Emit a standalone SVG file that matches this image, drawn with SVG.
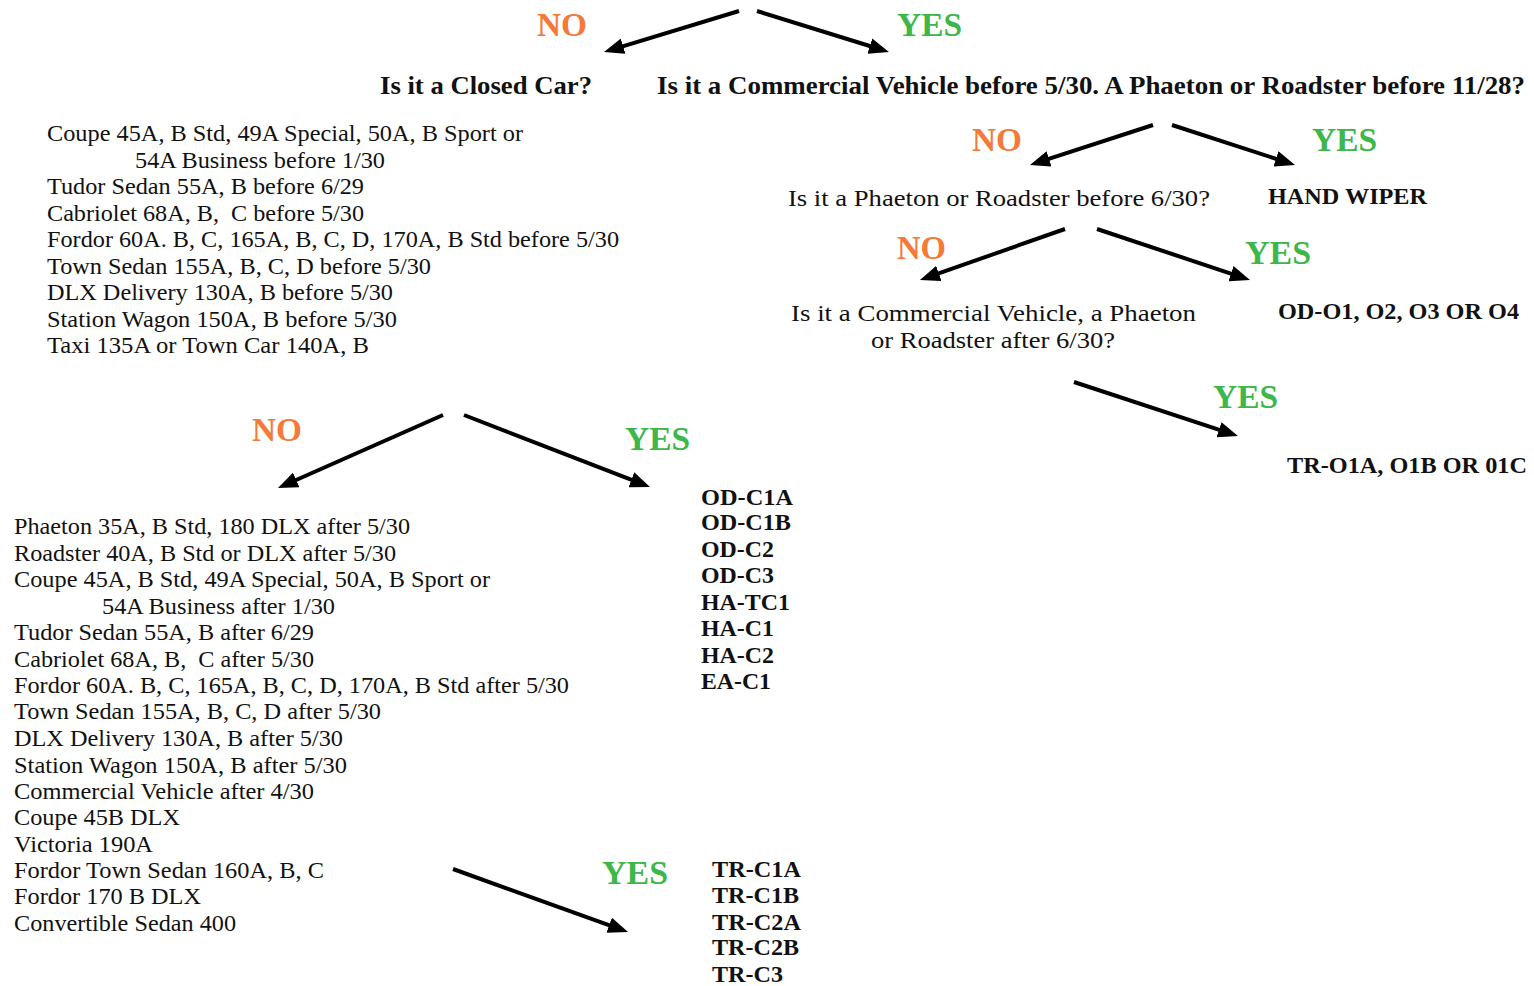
<svg xmlns="http://www.w3.org/2000/svg" width="1534" height="986" viewBox="0 0 1534 986" font-family="'Liberation Serif', 'Tinos', 'DejaVu Serif', serif">
<style>
text{font-family:'Liberation Serif','Tinos','DejaVu Serif',serif;fill:#111}
.r{font-size:24px}
.b{font-size:24px;font-weight:bold}
.q{font-size:26px;font-weight:bold}
.no{font-size:33px;font-weight:bold;fill:#F47A3A}
.yes{font-size:33px;font-weight:bold;fill:#3DB64A}
.c line{stroke:#000;stroke-width:4;marker-end:url(#ah)}
</style>
<defs>
<marker id="ah" markerUnits="userSpaceOnUse" markerWidth="20" markerHeight="16" refX="10" refY="8" orient="auto">
<path d="M0,0 L20,8 L0,16 z" fill="#000"/>
</marker>
</defs>
<rect width="1534" height="986" fill="#fff"/>
<g id="connectors" class="c">
<line x1="739" y1="11" x2="613.6" y2="49.1"/>
<line x1="757" y1="11" x2="879.4" y2="49"/>
<line x1="1153" y1="125" x2="1039.5" y2="161.9"/>
<line x1="1172" y1="125" x2="1285.5" y2="161.9"/>
<line x1="1065" y1="229" x2="929.4" y2="276.7"/>
<line x1="1097" y1="229" x2="1240.5" y2="276.8"/>
<line x1="1074" y1="382" x2="1228.5" y2="432.9"/>
<line x1="443" y1="415" x2="287.1" y2="484"/>
<line x1="464" y1="415" x2="640.7" y2="483.4"/>
<line x1="453" y1="869" x2="618.6" y2="928.6"/>
</g>
<g id="labels">
<text class="no" x="537" y="36" textLength="50" lengthAdjust="spacingAndGlyphs">NO</text>
<text class="yes" x="897" y="36" textLength="65" lengthAdjust="spacingAndGlyphs">YES</text>
<text class="no" x="972" y="151" textLength="50" lengthAdjust="spacingAndGlyphs">NO</text>
<text class="yes" x="1312" y="151" textLength="65" lengthAdjust="spacingAndGlyphs">YES</text>
<text class="no" x="897" y="259" textLength="49" lengthAdjust="spacingAndGlyphs">NO</text>
<text class="yes" x="1245" y="264" textLength="66" lengthAdjust="spacingAndGlyphs">YES</text>
<text class="yes" x="1213" y="408" textLength="65" lengthAdjust="spacingAndGlyphs">YES</text>
<text class="no" x="252" y="441" textLength="50" lengthAdjust="spacingAndGlyphs">NO</text>
<text class="yes" x="625" y="450" textLength="65" lengthAdjust="spacingAndGlyphs">YES</text>
<text class="yes" x="602" y="884" textLength="66" lengthAdjust="spacingAndGlyphs">YES</text>
</g>
<g id="q-closed">
<text class="q" x="380" y="94" textLength="212" lengthAdjust="spacingAndGlyphs">Is it a Closed Car?</text>
</g>
<g id="q-commercial">
<text class="q" x="657" y="94" textLength="868" lengthAdjust="spacingAndGlyphs">Is it a Commercial Vehicle before 5/30. A Phaeton or Roadster before 11/28?</text>
</g>
<g id="list-closed-before">
<text class="r" x="47" y="141" textLength="476" lengthAdjust="spacingAndGlyphs">Coupe 45A, B Std, 49A Special, 50A, B Sport or</text>
<text class="r" x="135" y="168" textLength="250" lengthAdjust="spacingAndGlyphs">54A Business before 1/30</text>
<text class="r" x="47" y="194" textLength="317" lengthAdjust="spacingAndGlyphs">Tudor Sedan 55A, B before 6/29</text>
<text class="r" x="47" y="221" textLength="317" lengthAdjust="spacingAndGlyphs">Cabriolet 68A, B,&#160; C before 5/30</text>
<text class="r" x="47" y="247" textLength="572" lengthAdjust="spacingAndGlyphs">Fordor 60A. B, C, 165A, B, C, D, 170A, B Std before 5/30</text>
<text class="r" x="47" y="274" textLength="384" lengthAdjust="spacingAndGlyphs">Town Sedan 155A, B, C, D before 5/30</text>
<text class="r" x="47" y="300" textLength="346" lengthAdjust="spacingAndGlyphs">DLX Delivery 130A, B before 5/30</text>
<text class="r" x="47" y="327" textLength="350" lengthAdjust="spacingAndGlyphs">Station Wagon 150A, B before 5/30</text>
<text class="r" x="47" y="353" textLength="322" lengthAdjust="spacingAndGlyphs">Taxi 135A or Town Car 140A, B</text>
</g>
<g id="q-phaeton">
<text class="r" x="788" y="206" textLength="422" lengthAdjust="spacingAndGlyphs">Is it a Phaeton or Roadster before 6/30?</text>
</g>
<g id="hand-wiper">
<text class="b" x="1268" y="204" textLength="159" lengthAdjust="spacingAndGlyphs">HAND WIPER</text>
</g>
<g id="q-commercial-after">
<text class="r" x="791" y="321" textLength="405" lengthAdjust="spacingAndGlyphs">Is it a Commercial Vehicle, a Phaeton</text>
<text class="r" x="871" y="348" textLength="244" lengthAdjust="spacingAndGlyphs">or Roadster after 6/30?</text>
</g>
<g id="od-o">
<text class="b" x="1278" y="319" textLength="241" lengthAdjust="spacingAndGlyphs">OD-O1, O2, O3 OR O4</text>
</g>
<g id="tr-o">
<text class="b" x="1287" y="473" textLength="240" lengthAdjust="spacingAndGlyphs">TR-O1A, O1B OR 01C</text>
</g>
<g id="list-closed-after">
<text class="r" x="14" y="534" textLength="396" lengthAdjust="spacingAndGlyphs">Phaeton 35A, B Std, 180 DLX after 5/30</text>
<text class="r" x="14" y="561" textLength="382" lengthAdjust="spacingAndGlyphs">Roadster 40A, B Std or DLX after 5/30</text>
<text class="r" x="14" y="587" textLength="476" lengthAdjust="spacingAndGlyphs">Coupe 45A, B Std, 49A Special, 50A, B Sport or</text>
<text class="r" x="102" y="614" textLength="233" lengthAdjust="spacingAndGlyphs">54A Business after 1/30</text>
<text class="r" x="14" y="640" textLength="300" lengthAdjust="spacingAndGlyphs">Tudor Sedan 55A, B after 6/29</text>
<text class="r" x="14" y="667" textLength="300" lengthAdjust="spacingAndGlyphs">Cabriolet 68A, B,&#160; C after 5/30</text>
<text class="r" x="14" y="693" textLength="555" lengthAdjust="spacingAndGlyphs">Fordor 60A. B, C, 165A, B, C, D, 170A, B Std after 5/30</text>
<text class="r" x="14" y="719" textLength="367" lengthAdjust="spacingAndGlyphs">Town Sedan 155A, B, C, D after 5/30</text>
<text class="r" x="14" y="746" textLength="329" lengthAdjust="spacingAndGlyphs">DLX Delivery 130A, B after 5/30</text>
<text class="r" x="14" y="773" textLength="333" lengthAdjust="spacingAndGlyphs">Station Wagon 150A, B after 5/30</text>
<text class="r" x="14" y="799" textLength="300" lengthAdjust="spacingAndGlyphs">Commercial Vehicle after 4/30</text>
<text class="r" x="14" y="825" textLength="166" lengthAdjust="spacingAndGlyphs">Coupe 45B DLX</text>
<text class="r" x="14" y="852" textLength="139" lengthAdjust="spacingAndGlyphs">Victoria 190A</text>
<text class="r" x="14" y="878" textLength="310" lengthAdjust="spacingAndGlyphs">Fordor Town Sedan 160A, B, C</text>
<text class="r" x="14" y="904" textLength="187" lengthAdjust="spacingAndGlyphs">Fordor 170 B DLX</text>
<text class="r" x="14" y="931" textLength="222" lengthAdjust="spacingAndGlyphs">Convertible Sedan 400</text>
</g>
<g id="codes-c">
<text class="b" x="701" y="505" textLength="92" lengthAdjust="spacingAndGlyphs">OD-C1A</text>
<text class="b" x="701" y="530" textLength="90" lengthAdjust="spacingAndGlyphs">OD-C1B</text>
<text class="b" x="701" y="557" textLength="73" lengthAdjust="spacingAndGlyphs">OD-C2</text>
<text class="b" x="701" y="583" textLength="73" lengthAdjust="spacingAndGlyphs">OD-C3</text>
<text class="b" x="701" y="610" textLength="89" lengthAdjust="spacingAndGlyphs">HA-TC1</text>
<text class="b" x="701" y="636" textLength="73" lengthAdjust="spacingAndGlyphs">HA-C1</text>
<text class="b" x="701" y="663" textLength="73" lengthAdjust="spacingAndGlyphs">HA-C2</text>
<text class="b" x="701" y="689" textLength="70" lengthAdjust="spacingAndGlyphs">EA-C1</text>
</g>
<g id="codes-tr">
<text class="b" x="712" y="877" textLength="89" lengthAdjust="spacingAndGlyphs">TR-C1A</text>
<text class="b" x="712" y="903" textLength="87" lengthAdjust="spacingAndGlyphs">TR-C1B</text>
<text class="b" x="712" y="930" textLength="89" lengthAdjust="spacingAndGlyphs">TR-C2A</text>
<text class="b" x="712" y="955" textLength="87" lengthAdjust="spacingAndGlyphs">TR-C2B</text>
<text class="b" x="712" y="982" textLength="71" lengthAdjust="spacingAndGlyphs">TR-C3</text>
</g>
</svg>
